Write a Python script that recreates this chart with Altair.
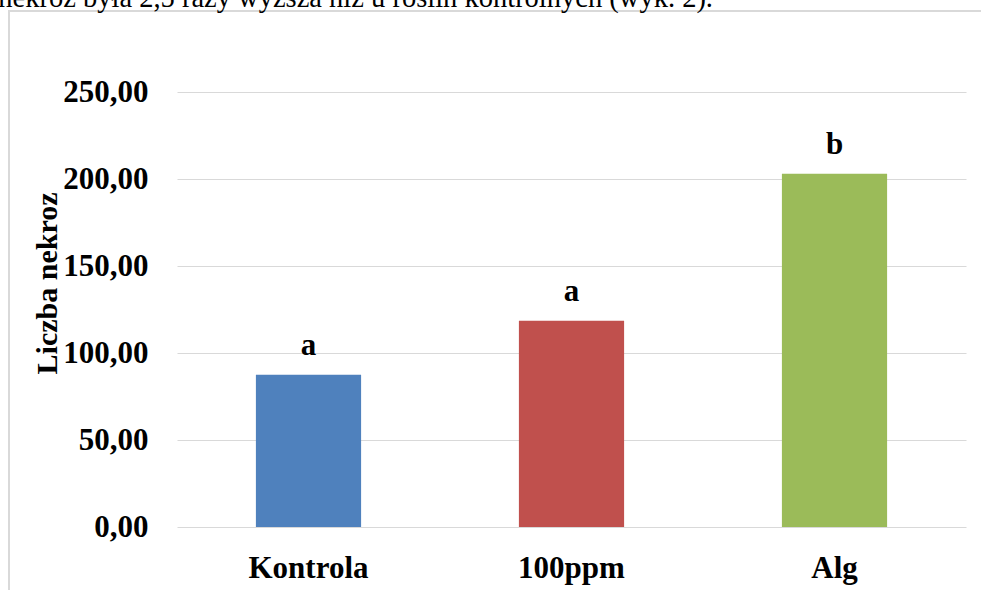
import altair as alt
import pandas as pd

# Liczba nekroz w poszczególnych wariantach doświadczenia
kategorie = ["Kontrola", "100ppm", "Alg"]
wartosci = [87.5, 118.5, 203.0]
grupy = ["a", "a", "b"]
kolory = ["#4F81BD", "#C0504D", "#9BBB59"]
y_ticks = [0, 50, 100, 150, 200, 250]
tekst_nad = "nekroz była 2,5 razy wyższa niż u roślin kontrolnych (wyk. 2)."

FONT = "Liberation Serif"

df = pd.DataFrame({"kat": kategorie, "val": wartosci, "grupa": grupy})
one = pd.DataFrame({"k": [0]})

x_enc = alt.X(
    "kat:N",
    sort=kategorie,
    scale=alt.Scale(paddingInner=0.6, paddingOuter=0.3),
    axis=alt.Axis(
        title=None,
        labelAngle=0,
        labelFont=FONT,
        labelFontWeight="bold",
        labelFontSize=31,
        labelColor="#000000",
        labelBaseline="alphabetic",
        labelPadding=50,
        ticks=False,
        domain=False,
    ),
)

y_enc = alt.Y(
    "val:Q",
    scale=alt.Scale(domain=[0, 250], nice=False),
    axis=alt.Axis(
        title="Liczba nekroz",
        values=y_ticks,
        labelExpr="replace(format(datum.value, '.2f'), '.', ',')",
        labelFont=FONT,
        labelFontWeight="bold",
        labelFontSize=31,
        labelColor="#000000",
        labelPadding=29,
        labelBaseline="middle",
        titleFont=FONT,
        titleFontWeight="bold",
        titleFontSize=30,
        titleColor="#000000",
        titleAngle=-90,
        titleX=-130,
        titleY=191,
        titleAlign="center",
        titleBaseline="middle",
        ticks=False,
        domain=False,
        grid=True,
        gridColor="#d9d9d9",
        gridWidth=1.2,
    ),
)

bars = alt.Chart(df).mark_bar().encode(
    x=x_enc,
    y=y_enc,
    color=alt.Color("kat:N", scale=alt.Scale(domain=kategorie, range=kolory), legend=None),
)

letters = alt.Chart(df).mark_text(
    font=FONT, fontWeight="bold", fontSize=31, baseline="alphabetic", dy=-20, color="#000000"
).encode(
    x=alt.X("kat:N", sort=kategorie),
    y=alt.Y("val:Q"),
    text="grupa:N",
)

# ramka obszaru wykresu (lewa i górna krawędź)
frame_left = alt.Chart(one).mark_rule(color="#d9d9d9", strokeWidth=2).encode(
    x=alt.value(-168), y=alt.value(-81), y2=alt.value(520)
)
frame_top = alt.Chart(one).mark_rule(color="#d9d9d9", strokeWidth=2).encode(
    x=alt.value(-169), x2=alt.value(820), y=alt.value(-81)
)

top_text = alt.Chart(one).mark_text(
    font=FONT, fontSize=28.5, align="right", baseline="alphabetic", color="#000000"
).encode(
    x=alt.value(536), y=alt.value(-85), text=alt.value(tekst_nad)
)

chart = alt.layer(frame_left, frame_top, top_text, bars, letters).properties(
    width=789,
    height=435,
    padding={"left": 177, "top": 92, "right": 15, "bottom": 63},
    autosize=alt.AutoSizeParams(type="none"),
    background="#ffffff",
).configure_view(stroke=None)

chart.save("out.html", embed_options={"renderer": "svg", "actions": False})
